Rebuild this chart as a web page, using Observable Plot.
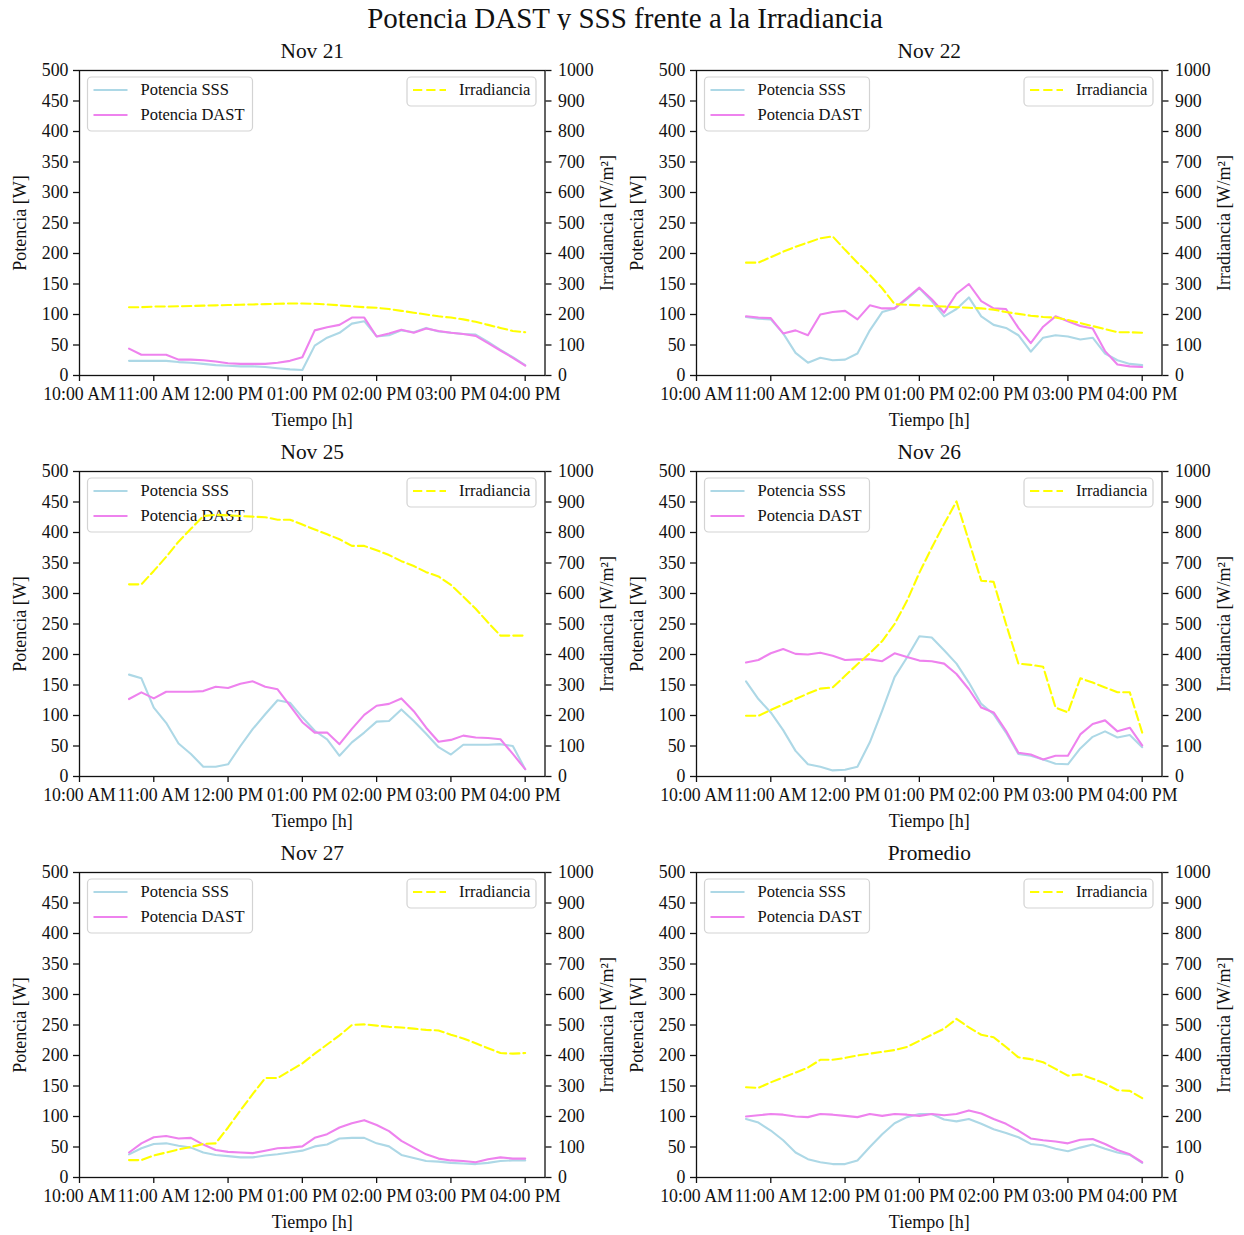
<!DOCTYPE html>
<html><head><meta charset="utf-8">
<script src="https://cdn.jsdelivr.net/npm/d3@7"></script>
<script src="https://cdn.jsdelivr.net/npm/@observablehq/plot@0.6"></script>
<style>
body{margin:0;background:#fff;}
#fig{position:relative;width:1244px;height:1235px;overflow:hidden;background:#fff;font-family:"Liberation Serif","Times New Roman",serif;color:#111;}
#title{position:absolute;left:3px;top:4px;width:1244px;text-align:center;font-size:29px;line-height:29px;}
.panel{position:absolute;}
</style></head><body>
<div id="fig"><div id="title">Potencia DAST y SSS frente a la Irradiancia</div></div>
<script>
const times = ["10:40","10:50","11:00","11:10","11:20","11:30","11:40","11:50","12:00","12:10","12:20","12:30","12:40","12:50","13:00","13:10","13:20","13:30","13:40","13:50","14:00","14:10","14:20","14:30","14:40","14:50","15:00","15:10","15:20","15:30","15:40","15:50","16:00"];
const xTickTimes = ["10:00","11:00","12:00","13:00","14:00","15:00","16:00"];
const xDomainTimes = ["10:00","16:16"];
const yTicks = [0,50,100,150,200,250,300,350,400,450,500];
const titles = ["Nov 21","Nov 22","Nov 25","Nov 26","Nov 27","Promedio"];
const xLabel = "Tiempo [h]";
const yLabelLeft = "Potencia [W]";
const yLabelRight = "Irradiancia [W/m²]";
const seriesNames = ["Potencia SSS","Potencia DAST","Irradiancia"];

const sss_nov21 = [24,24,24,24,22,21,19,17,16,15,15,14,12,10,9,49,62,70,85,89,64,66,74,71,78,72,70,68,67,55,42,30,17];
const dast_nov21 = [44,34,34,34,26,26,25,23,20,19,19,19,21,24,30,74,79,83,95,95,64,69,75,70,77,73,70,68,65,53,41,29,16];
const irr_nov21 = [224,224,226,226,227,228,229,230,231,232,233,234,235,236,236,235,233,230,227,224,222,218,212,206,200,194,190,184,176,166,156,146,142];

const sss_nov22 = [96,93,92,69,37,21,29,25,26,36,74,104,110,125,143,122,97,109,128,97,83,78,66,39,62,66,64,59,62,36,25,19,17];
const dast_nov22 = [97,95,94,69,74,66,100,104,106,92,115,110,110,127,144,125,103,134,150,122,110,109,78,53,80,97,89,81,77,40,18,15,14];
const irr_nov22 = [370,370,388,406,422,436,450,456,412,370,330,286,234,232,230,228,226,224,222,220,216,208,202,196,192,190,182,172,162,152,142,142,140];

const sss_nov25 = [167,161,113,88,54,37,16,16,20,50,78,102,125,121,97,75,61,34,56,72,90,91,110,91,70,48,36,52,52,52,53,50,12];
const dast_nov25 = [127,138,128,139,139,139,140,147,145,152,156,147,143,116,89,72,72,53,78,101,116,119,128,107,80,57,60,67,64,63,61,37,12];
const irr_nov25 = [630,630,674,720,770,812,854,858,856,854,852,850,842,842,826,810,794,778,756,756,742,726,706,690,670,656,628,590,550,505,462,462,462];

const sss_nov26 = [156,127,105,76,42,20,16,10,11,16,56,108,163,195,230,228,207,185,154,119,102,72,37,34,28,21,20,46,65,74,64,68,48];
const dast_nov26 = [187,191,202,209,201,200,203,198,191,192,192,189,202,196,190,189,185,168,143,113,105,75,39,36,28,34,34,69,86,92,74,80,51];
const irr_nov26 = [199,199,218,236,254,272,288,292,330,368,404,444,500,576,668,750,828,902,772,642,638,500,370,366,360,226,210,322,308,292,276,276,144];

const sss_nov27 = [38,48,55,56,52,49,41,37,35,33,33,36,38,41,44,51,54,64,65,65,56,51,37,32,27,26,24,23,22,24,27,28,28];
const dast_nov27 = [41,56,66,68,64,65,54,45,42,41,40,44,48,49,51,65,71,82,89,94,86,76,60,49,38,31,28,27,25,30,33,31,31];
const irr_nov27 = [57,57,72,82,92,100,110,112,164,220,274,326,326,350,374,406,436,466,500,502,498,494,492,488,484,482,468,456,440,424,408,406,408];

const sss_prom = [96,90,77,61,41,30,25,22,22,28,50,71,89,99,104,104,95,92,96,88,79,73,66,55,53,47,43,49,54,47,41,37,24];
const dast_prom = [100,102,104,103,100,99,104,103,101,99,104,101,104,103,101,104,102,104,110,105,96,88,77,64,61,59,56,62,63,55,45,38,25];
const irr_prom = [296,294,312,328,344,360,386,386,392,400,406,412,418,428,448,468,488,520,492,468,460,428,394,388,378,356,334,338,324,308,286,284,260];

const colSSS = "lightblue", colDAST = "violet", colIrr = "yellow";

const parseT = d3.utcParse("%H:%M");
const xTicks = xTickTimes.map(parseT);
const xDomain = xDomainTimes.map(parseT);

const panels = [
  [titles[0], sss_nov21, dast_nov21, irr_nov21],
  [titles[1], sss_nov22, dast_nov22, irr_nov22],
  [titles[2], sss_nov25, dast_nov25, irr_nov25],
  [titles[3], sss_nov26, dast_nov26, irr_nov26],
  [titles[4], sss_nov27, dast_nov27, irr_nov27],
  [titles[5], sss_prom, dast_prom, irr_prom]
];

const W = 620, ML = 79, PW = 465.5, MR = W - ML - PW, MT = 40, PH = 305, MB = 56;
const colLeft = [0, 617], rowTop = [30, 431, 832];
const FONT = "Liberation Serif, Times New Roman, serif";
const NS = "http://www.w3.org/2000/svg";
const LW = 2.1;
const DASH = "9.25,4";

function el(name, attrs, text) {
  const e = document.createElementNS(NS, name);
  for (const k in attrs) e.setAttribute(k, attrs[k]);
  if (text != null) e.textContent = text;
  return e;
}

panels.forEach(([title, sss, dast, irr], k) => {
  const rows = times.map((t, i) => ({t: parseT(t), sss: sss[i], dast: dast[i], irr: irr[i]}));
  const chart = Plot.plot({
    width: W, height: MT + PH + MB,
    marginLeft: ML, marginRight: MR, marginTop: MT, marginBottom: MB,
    style: {fontFamily: FONT, fontSize: "17.8px", background: "white", color: "#111", overflow: "visible"},
    x: {type: "utc", domain: xDomain},
    y: {domain: [0, 500]},
    marks: [
      Plot.line(rows, {x: "t", y: "sss", stroke: colSSS, strokeWidth: LW}),
      Plot.line(rows, {x: "t", y: "dast", stroke: colDAST, strokeWidth: LW}),
      Plot.line(rows, {x: "t", y: d => d.irr / 2, stroke: colIrr, strokeWidth: LW, strokeDasharray: DASH}),
      Plot.frame({stroke: "#111", strokeWidth: 1.3}),
      Plot.axisX({ticks: xTicks, tickFormat: d3.utcFormat("%I:%M %p"), tickSize: 6, tickPadding: 6, label: null, strokeWidth: 1.3}),
      Plot.axisY({ticks: yTicks, anchor: "left", tickSize: 6, tickPadding: 5, label: null, strokeWidth: 1.3}),
      Plot.axisY({ticks: yTicks, anchor: "right", tickFormat: d => String(d * 2), tickSize: 6, tickPadding: 7, label: null, strokeWidth: 1.3}),
      Plot.text([title], {text: d => d, frameAnchor: "top", dy: -19, fontSize: 21.4, lineAnchor: "middle"}),
      Plot.text([xLabel], {text: d => d, frameAnchor: "bottom", dy: 45, fontSize: 18, lineAnchor: "middle"}),
      Plot.text([yLabelLeft], {text: d => d, frameAnchor: "left", dx: -59, rotate: -90, fontSize: 18, textAnchor: "middle", lineAnchor: "middle"}),
      Plot.text([yLabelRight], {text: d => d, frameAnchor: "right", dx: 62.5, rotate: -90, fontSize: 18, textAnchor: "middle", lineAnchor: "middle"})
    ]
  });

  // Find the irradiance mark group (direct child of the svg) so the left legend sits beneath it
  let irrG = chart.querySelector('[stroke-dasharray]');
  while (irrG && irrG.parentNode !== chart) irrG = irrG.parentNode;

  // Legends (chrome, not data)
  const x0 = ML, y0 = MT, x1 = ML + PW;
  const lg = el("g", {"font-family": FONT, "font-size": "16.5px", "text-anchor": "start"});
  const bx = x0 + 8.5, by = y0 + 7;
  lg.appendChild(el("rect", {x: bx, y: by, width: 165, height: 54, rx: 4, fill: "white", "fill-opacity": 0.8, stroke: "#d3d3d3", "stroke-width": 1.2}));
  [[colSSS, seriesNames[0], 20], [colDAST, seriesNames[1], 45]].forEach(([c, name, dy]) => {
    lg.appendChild(el("line", {x1: bx + 6, x2: bx + 40, y1: y0 + dy, y2: y0 + dy, stroke: c, "stroke-width": LW}));
    lg.appendChild(el("text", {x: bx + 53, y: y0 + dy, dy: "0.32em", fill: "#111", "text-anchor": "start"}, name));
  });
  if (irrG) chart.insertBefore(lg, irrG); else chart.appendChild(lg);

  const rg = el("g", {"font-family": FONT, "font-size": "16.5px", "text-anchor": "start"});
  const rbx = x1 - 8.5 - 129;
  rg.appendChild(el("rect", {x: rbx, y: by, width: 129, height: 29, rx: 4, fill: "white", "fill-opacity": 0.8, stroke: "#d3d3d3", "stroke-width": 1.2}));
  rg.appendChild(el("line", {x1: rbx + 6, x2: rbx + 39, y1: y0 + 20, y2: y0 + 20, stroke: colIrr, "stroke-width": LW, "stroke-dasharray": DASH}));
  rg.appendChild(el("text", {x: rbx + 52, y: y0 + 20, dy: "0.32em", fill: "#111", "text-anchor": "start"}, seriesNames[2]));
  chart.appendChild(rg);

  const div = document.createElement("div");
  div.className = "panel";
  div.style.left = colLeft[k % 2] + "px";
  div.style.top = rowTop[Math.floor(k / 2)] + "px";
  div.appendChild(chart);
  document.getElementById("fig").appendChild(div);
});
</script>
</body></html>
